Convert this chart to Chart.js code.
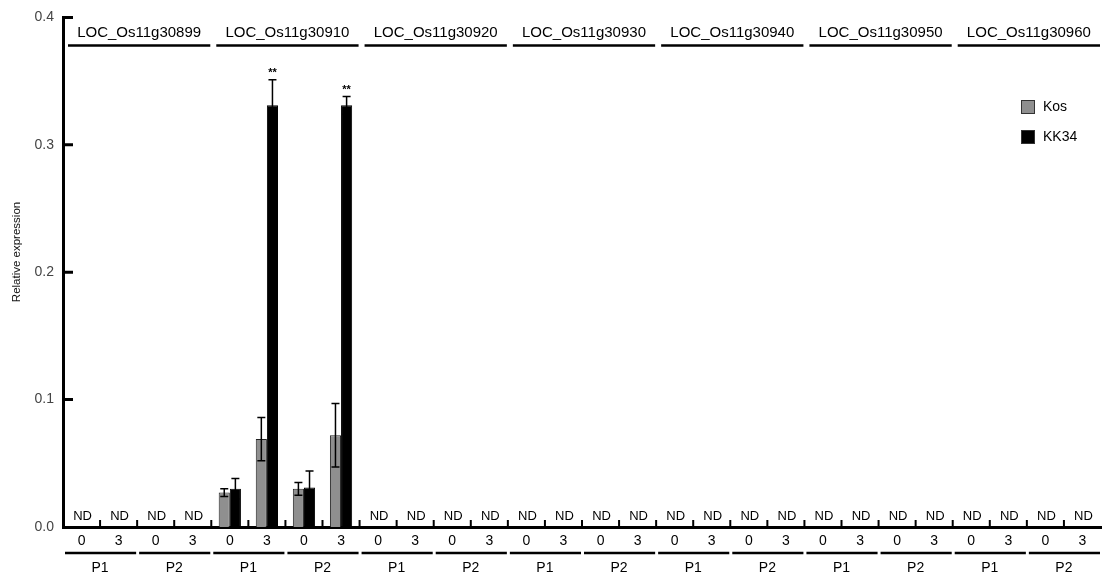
<!DOCTYPE html>
<html>
<head>
<meta charset="utf-8">
<script src="https://cdn.jsdelivr.net/npm/chart.js@4.4.1/dist/chart.umd.min.js"></script>
<style>
  html, body { margin: 0; padding: 0; background: #fff; }
  #wrap { width: 1102px; height: 577px; position: relative; }
</style>
</head>
<body>
<div id="wrap"><canvas id="expr"></canvas></div>
<script>
// genes across the top, lines (P1/P2) and days (0/3) along the bottom
var genes = ["LOC_Os11g30899", "LOC_Os11g30910", "LOC_Os11g30920", "LOC_Os11g30930",
  "LOC_Os11g30940", "LOC_Os11g30950", "LOC_Os11g30960"];
var lines = ["P1", "P2"];
var days = ["0", "3"];

// one value per gene/line/day; null = not detected (ND)
var kosValues = [null, null, null, null, 0.027, 0.069, 0.030, 0.072,
  null, null, null, null, null, null, null, null, null, null, null, null,
  null, null, null, null, null, null, null, null];
var kosErrors = [0, 0, 0, 0, 0.003, 0.017, 0.005, 0.025,
  0, 0, 0, 0, 0, 0, 0, 0, 0, 0, 0, 0, 0, 0, 0, 0, 0, 0, 0, 0];
var kk34Values = [null, null, null, null, 0.030, 0.331, 0.031, 0.331,
  null, null, null, null, null, null, null, null, null, null, null, null,
  null, null, null, null, null, null, null, null];
var kk34Errors = [0, 0, 0, 0, 0.008, 0.020, 0.013, 0.007,
  0, 0, 0, 0, 0, 0, 0, 0, 0, 0, 0, 0, 0, 0, 0, 0, 0, 0, 0, 0];
var kk34Stars = ["", "", "", "", "", "**", "", "**",
  "", "", "", "", "", "", "", "", "", "", "", "", "", "", "", "", "", "", "", ""];
var yTicks = [0, 0.1, 0.2, 0.3, 0.4];
var yTitle = "Relative expression";

var FONT = "'Liberation Sans', Arial, sans-serif";

var labels = [];
genes.forEach(function () {
  lines.forEach(function () {
    days.forEach(function (d) { labels.push(d); });
  });
});

var extras = {
  id: "extras",
  afterDatasetsDraw: function (chart) {
    var c = chart.ctx, xs = chart.scales.x, ys = chart.scales.y, area = chart.chartArea;
    var step = xs.getPixelForValue(1) - xs.getPixelForValue(0);
    var base = ys.getPixelForValue(0);
    c.save();

    // error bars + stars
    chart.data.datasets.forEach(function (ds, di) {
      var meta = chart.getDatasetMeta(di);
      meta.data.forEach(function (bar, i) {
        var v = ds.data[i];
        if (v == null) return;
        var e = ds.errors[i];
        var top = ys.getPixelForValue(v + e), bot = ys.getPixelForValue(v - e);
        c.strokeStyle = "#000";
        c.lineWidth = 1.5;
        c.beginPath();
        c.moveTo(bar.x, top); c.lineTo(bar.x, bot);
        c.moveTo(bar.x - 4, top); c.lineTo(bar.x + 4, top);
        c.moveTo(bar.x - 4, bot); c.lineTo(bar.x + 4, bot);
        c.stroke();
        if (ds.stars && ds.stars[i]) {
          c.fillStyle = "#000";
          c.font = "bold 11px " + FONT;
          c.textAlign = "center";
          c.textBaseline = "bottom";
          c.fillText(ds.stars[i], bar.x, top - 1);
        }
      });
    });

    // ND labels where nothing was measured
    c.fillStyle = "#000";
    c.font = "13px " + FONT;
    c.textAlign = "center";
    c.textBaseline = "middle";
    labels.forEach(function (l, i) {
      if (kosValues[i] == null && kk34Values[i] == null) {
        c.fillText("ND", xs.getPixelForValue(i) + 1, base - 11);
      }
    });

    // small ticks between categories, pointing up
    c.strokeStyle = "#000";
    c.lineWidth = 2;
    c.beginPath();
    for (var i = 1; i < labels.length; i++) {
      var bx = xs.getPixelForValue(i) - step / 2;
      c.moveTo(bx, base); c.lineTo(bx, base - 7);
    }
    c.stroke();

    // y ticks pointing inward
    c.lineWidth = 3;
    c.beginPath();
    yTicks.forEach(function (t) {
      if (t === 0) return;
      var py = ys.getPixelForValue(t);
      c.moveTo(area.left, py); c.lineTo(area.left + 10, py);
    });
    c.stroke();

    // y title, sitting a bit above the axis middle as in the figure
    c.save();
    c.translate(17, 252);
    c.rotate(-Math.PI / 2);
    c.font = "11.5px " + FONT;
    c.fillStyle = "#111";
    c.fillText(yTitle, 0, 0);
    c.restore();

    // gene headers
    var per = lines.length * days.length;
    c.font = "15px " + FONT;
    c.fillStyle = "#000";
    c.lineWidth = 2.5;
    genes.forEach(function (g, gi) {
      var x0 = xs.getPixelForValue(gi * per) - step / 2;
      var x1 = x0 + step * per;
      c.fillText(g, (x0 + x1) / 2 + 2, area.top + 15);
      c.beginPath();
      c.moveTo(x0 + 5, area.top + 28); c.lineTo(x1 - 1, area.top + 28);
      c.stroke();
    });

    // line groups at the bottom
    var nPairs = genes.length * lines.length;
    c.font = "14px " + FONT;
    for (var p = 0; p < nPairs; p++) {
      var px0 = xs.getPixelForValue(p * days.length) - step / 2;
      var px1 = px0 + step * days.length;
      c.beginPath();
      c.moveTo(px0 + 2, base + 26); c.lineTo(px1 - 1, base + 26);
      c.stroke();
      c.fillText(lines[p % lines.length], (px0 + px1) / 2, base + 41);
    }

    // legend
    c.font = "14px " + FONT;
    c.textAlign = "left";
    chart.data.datasets.forEach(function (ds, di) {
      var ly = 107 + di * 30;
      c.fillStyle = ds.backgroundColor;
      c.fillRect(1021, ly - 7, 14, 14);
      c.strokeStyle = "#333";
      c.lineWidth = 1;
      c.strokeRect(1021.5, ly - 6.5, 13, 13);
      c.fillStyle = "#000";
      c.fillText(ds.label, 1043, ly);
    });

    c.restore();
  }
};

new Chart(document.getElementById("expr"), {
  type: "bar",
  data: {
    labels: labels,
    datasets: [
      { label: "Kos", data: kosValues, errors: kosErrors, backgroundColor: "#8f8f8f",
        borderColor: "#222", borderWidth: 1, categoryPercentage: 0.6, barPercentage: 1 },
      { label: "KK34", data: kk34Values, errors: kk34Errors, stars: kk34Stars, backgroundColor: "#000",
        borderColor: "#000", borderWidth: 1, categoryPercentage: 0.6, barPercentage: 1 }
    ]
  },
  options: {
    responsive: true,
    maintainAspectRatio: false,
    animation: false,
    layout: { padding: { top: 14, right: 1, left: 0, bottom: 0 } },
    plugins: { legend: { display: false }, tooltip: { enabled: false } },
    scales: {
      x: {
        grid: { display: false, drawTicks: false },
        border: { display: true, color: "#000", width: 3 },
        ticks: { color: "#000", padding: 6, maxRotation: 0, autoSkip: false,
          font: { family: FONT, size: 14 } },
        afterFit: function (s) { s.height = 50; }
      },
      y: {
        min: 0, max: 0.4,
        afterBuildTicks: function (s) { s.ticks = yTicks.map(function (v) { return { value: v }; }); },
        grid: { display: false, drawTicks: false },
        border: { display: true, color: "#000", width: 3 },
        ticks: { color: "#444", padding: 9, font: { family: FONT, size: 14 },
          callback: function (v) { return Number(v).toFixed(1); } },
        afterFit: function (s) { s.width = 63; }
      }
    }
  },
  plugins: [extras]
});
</script>
</body>
</html>
